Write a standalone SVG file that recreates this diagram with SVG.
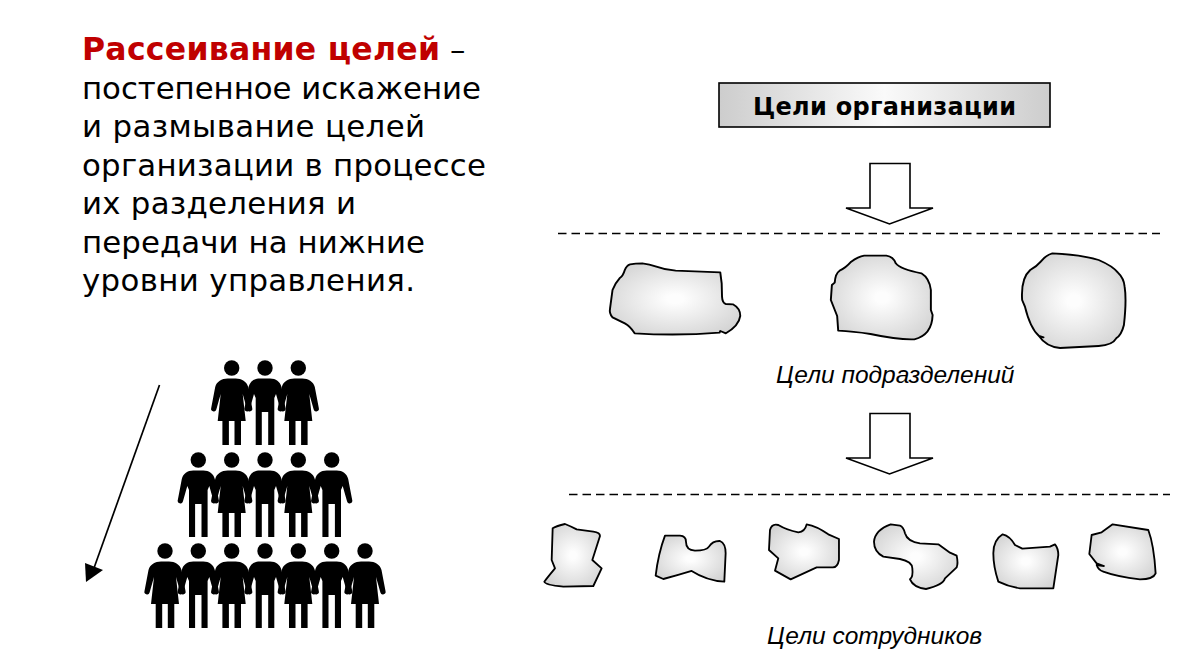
<svg xmlns="http://www.w3.org/2000/svg" xmlns:xlink="http://www.w3.org/1999/xlink" width="1200" height="666" viewBox="0 0 1200 666">
<style>
.t{font-family:"DejaVu Sans",Verdana,sans-serif;font-size:30.8px;fill:#000}
.i{font-family:"Liberation Sans",Arial,sans-serif;font-style:italic;font-size:24.5px;fill:#000}
.b{fill:url(#g);stroke:#000;stroke-width:5.5;stroke-linejoin:round}
.a{fill:#fff;stroke:#000;stroke-width:1.6;stroke-linejoin:miter}
.d{fill:none;stroke:#000;stroke-width:1.7;stroke-dasharray:8.5 5}
</style>
<defs>
<radialGradient id="g" cx="0.5" cy="0.5" r="0.62"><stop offset="0.1" stop-color="#fdfdfd"/><stop offset="1" stop-color="#d2d2d2"/></radialGradient>
<linearGradient id="bx" x1="0" x2="1" y1="0" y2="0"><stop offset="0" stop-color="#cdcdcd"/><stop offset="0.5" stop-color="#fafafa"/><stop offset="1" stop-color="#cdcdcd"/></linearGradient>
<g id="m"><circle cx="0" cy="0" r="7.7"/><path d="M-5,10.5H5C11,10.5 15,13.5 16.5,19L20.5,40A2.6,2.6 0 0 1 15.4,41.5L11,26L9.3,30V77H3.2V44H-3.2V77H-9.3V30L-11,26L-15.4,41.5A2.6,2.6 0 0 1 -20.5,40L-16.5,19C-15,13.5 -11,10.5 -5,10.5Z"/></g>
<g id="w"><circle cx="0" cy="0" r="7.7"/><path d="M-4,10.5H4C10,10.5 15,13.5 16.5,19L20.5,40A2.6,2.6 0 0 1 15.4,41.5L11,26L14,53H9.3V77H2.8V53H-2.8V77H-9.3V53H-14L-11,26L-15.4,41.5A2.6,2.6 0 0 1 -20.5,40L-16.5,19C-15,13.5 -10,10.5 -4,10.5Z"/></g>
</defs>
<g id="definition">
<text class="t" x="82" y="60"><tspan font-weight="bold" font-size="31.5px" fill="#c00000" textLength="358" lengthAdjust="spacing">Рассеивание целей</tspan> –</text>
<text class="t" x="82" y="99" textLength="399">постепенное искажение</text>
<text class="t" x="82" y="137" textLength="343">и размывание целей</text>
<text class="t" x="82" y="176" textLength="404">организации в процессе</text>
<text class="t" x="82" y="214" textLength="274">их разделения и</text>
<text class="t" x="82" y="253" textLength="343">передачи на нижние</text>
<text class="t" x="82" y="291" textLength="333">уровни управления.</text>
</g>
<g id="people">
<use xlink:href="#w" x="231.7" y="368"/><use xlink:href="#m" x="265" y="368"/><use xlink:href="#w" x="298.3" y="368"/>
<use xlink:href="#m" x="198.3" y="460"/><use xlink:href="#w" x="231.7" y="460"/><use xlink:href="#m" x="265" y="460"/><use xlink:href="#w" x="298.3" y="460"/><use xlink:href="#m" x="331.7" y="460"/>
<use xlink:href="#w" x="165" y="551"/><use xlink:href="#m" x="198.3" y="551"/><use xlink:href="#w" x="231.7" y="551"/><use xlink:href="#m" x="265" y="551"/><use xlink:href="#w" x="298.3" y="551"/><use xlink:href="#m" x="331.7" y="551"/><use xlink:href="#w" x="365" y="551"/>
</g>
<g id="connectors">
<line x1="159.5" y1="385" x2="94" y2="568" stroke="#000" stroke-width="1.7"/>
<polygon points="86,582 85,563 103,570" fill="#000"/>
<polygon class="a" points="870,163.5 910,163.5 910,208 933,208 889.5,224 846,208 870,208"/>
<polygon class="a" points="870,413.5 910,413.5 910,458 933,458 889.5,474 846,458 870,458"/>
<line class="d" x1="558" y1="233.5" x2="1160" y2="233.5"/>
<line class="d" x1="569" y1="494.5" x2="1170" y2="494.5"/>
</g>
<g id="org-goals">
<rect x="719" y="83" width="331" height="44" fill="url(#bx)" stroke="#000" stroke-width="1.6"/>
<text x="753" y="115" textLength="263" lengthAdjust="spacing" font-family="DejaVu Sans,Verdana,sans-serif" font-weight="bold" font-size="24px">Цели организации</text>
</g>
<g id="dept-goals" transform="translate(589.7,240) scale(0.351,0.3333)">
<path class="b" d="M115,73Q130,70 150,70Q170,72 190,80Q215,90 245,92L372,97L376,130L377,170Q378,190 388,192L408,193Q429,205 429,228Q425,258 388,280L372,273L370,278Q250,288 128,280Q115,258 100,250L65,232Q55,220 58,205L65,150Q72,130 85,115Q95,108 100,90Q105,76 115,73Z"/>
<path class="b" d="M782,47L845,47Q865,50 872,70Q885,88 945,100Q968,115 972,150L972,210L977,225Q975,285 925,298Q880,300 800,282Q750,274 708,272L705,228L687,180L690,135L698,128Q700,100 712,92Q728,85 745,65Q765,50 782,47Z"/>
<path class="b" d="M1318,40Q1400,44 1450,60Q1490,78 1505,98Q1522,115 1524,140Q1530,180 1522,255Q1515,285 1500,295Q1490,315 1450,318L1340,324Q1300,320 1280,288L1293,292L1280,288Q1255,265 1240,200L1232,180Q1228,115 1255,90Q1275,78 1285,65Q1300,45 1318,40Z"/>
</g>
<text class="i" x="776" y="383" id="dept-label">Цели подразделений</text>
<g id="staff-goals-1" transform="translate(530,510) scale(0.3333)">
<path class="b" d="M68,55Q80,48 105,42Q125,50 140,58L190,65Q210,68 210,78L187,150L215,175L190,228L100,230Q45,225 43,215Q50,205 75,175L65,150Z"/>
<path class="b" d="M405,77L450,77Q468,78 468,95Q468,120 495,122Q530,122 537,110Q548,92 570,93Q587,100 587,130L583,215Q530,212 485,183Q440,197 400,207L377,197Q385,130 405,77Z"/>
<path class="b" d="M720,60Q725,40 745,45Q770,60 805,67Q825,65 830,43Q860,48 895,73L927,87L927,150Q922,175 905,172L860,172L782,208L735,182L745,145L717,120Z"/>
</g>
<g id="staff-goals-2" transform="translate(850,510) scale(0.3333)">
<path class="b" d="M122,43L150,47Q160,50 165,70Q172,95 210,100L265,103L300,128L320,137Q325,160 320,172L285,205Q280,225 228,237Q190,232 180,208Q190,200 187,175Q187,155 150,147L100,140Q72,125 72,95Q75,60 122,43Z"/>
<path class="b" d="M458,73Q480,78 495,105L517,116L600,110L615,103Q625,115 625,135L610,235L510,235Q475,230 445,215Q430,170 430,130Q430,90 458,73Z"/>
<path class="b" d="M788,43L895,60Q912,105 917,190Q910,208 870,208Q800,200 760,185Q745,180 740,165L762,168L740,160L718,132L725,75L755,67Z"/>
</g>
<text class="i" x="767" y="644" id="staff-label">Цели сотрудников</text>
</svg>
